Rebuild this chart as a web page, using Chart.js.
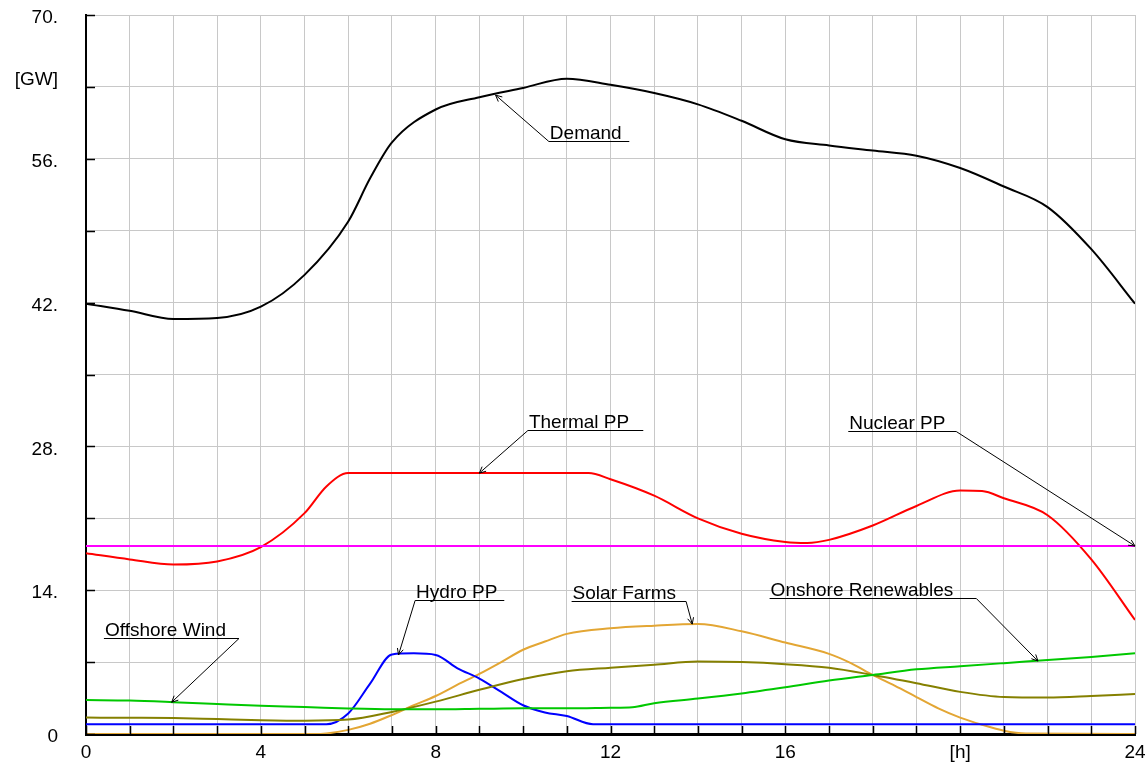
<!DOCTYPE html>
<html>
<head>
<meta charset="utf-8">
<script src="https://cdn.jsdelivr.net/npm/chart.js@4/dist/chart.umd.min.js"></script>
<style>
html,body{margin:0;padding:0;background:#fff;}
#wrap{width:1146px;height:762px;}
</style>
</head>
<body>
<div id="wrap"><canvas id="c" width="1146" height="762"></canvas></div>
<script>
// ---- Data (hours, GW) ----
const demandHours = [0,1,2,3,4,5,6,6.5,7,8,9,10,11,12,13,14,15,16,17,18,19,20,21,22,23,24];
const demandGW    = [41.9,41.2,40.4,40.5,41.6,44.7,49.9,54.1,57.6,60.8,62.0,62.9,63.8,63.2,62.4,61.3,59.7,57.9,57.3,56.8,56.3,55.1,53.3,51.3,47.2,41.9];

const thermalHours = [0,1,2,3,4,5,5.5,6,11.5,12,13,14,15,16,16.5,17,18,19,20,20.5,21,22,23,24];
const thermalGW    = [17.6,17.0,16.5,16.8,18.2,21.5,24.1,25.4,25.4,24.8,23.2,21.0,19.5,18.7,18.6,18.9,20.3,22.2,23.7,23.65,22.95,21.3,17.0,11.1];

const nuclearHours = [0,24];
const nuclearGW    = [18.3,18.3];

const hydroHours = [0,5.5,6,6.5,7,7.5,8,8.5,9,9.5,10,10.5,11,11.6,24];
const hydroGW    = [0.95,0.95,2.0,4.9,7.75,7.85,7.7,6.4,5.4,4.1,2.8,2.1,1.75,0.95,0.95];

const windHours = [0,1,2,3,4,5,6,7,8,9,10,11,12,12.5,13,14,15,16,17,18,19,20,21,22,23,24];
const windGW    = [3.3,3.25,3.1,2.92,2.75,2.63,2.48,2.4,2.4,2.45,2.5,2.5,2.55,2.6,3.0,3.45,3.95,4.55,5.2,5.75,6.3,6.6,6.9,7.2,7.5,7.85];

const oliveHours = [0,1,2,3,4,5,6,7,8,9,10,11,12,13,14,15,16,17,18,19,20,21,22,23,24];
const oliveGW    = [1.6,1.58,1.55,1.45,1.35,1.3,1.4,2.15,3.15,4.3,5.35,6.1,6.45,6.75,7.05,7.0,6.8,6.45,5.75,4.95,4.1,3.6,3.55,3.7,3.9];

const solarHours = [0,5.2,5.5,6,6.5,7,7.5,8,8.5,9,9.5,10,10.5,11,12,13,14,15,16,17,17.5,18,18.5,19,19.5,20,20.5,21,21.5,24];
const solarGW    = [0,0,0.05,0.4,1.0,1.85,2.8,3.7,4.8,5.85,7.0,8.2,9.0,9.75,10.3,10.55,10.7,10.0,8.9,7.8,6.9,5.75,4.7,3.6,2.5,1.6,0.9,0.32,0.05,0];

// ---- Tick labels ----
const yTickLabels = {0:'0',14:'14.',28:'28.',42:'42.',56:'56.',63:['[GW]',''],70:'70.'};
const xTickLabels = {0:'0',4:'4',8:'8',12:'12',16:'16',20:'[h]',24:'24'};

// ---- Annotation config (data coordinates) ----
const notes = [
  {text:'Demand',             ux1:10.59, ux2:12.43, uy:57.7,  side:'left',  tx:9.37,  ty:62.2},
  {text:'Thermal PP',         ux1:10.11, ux2:12.75, uy:29.6,  side:'left',  tx:9.0,   ty:25.4},
  {text:'Nuclear PP',         ux1:17.44, ux2:19.91, uy:29.5,  side:'right', tx:24.0,  ty:18.3},
  {text:'Onshore Renewables', ux1:15.64, ux2:20.37, uy:13.24, side:'right', tx:21.78, ty:7.1},
  {text:'Solar Farms',        ux1:11.11, ux2:13.73, uy:12.95, side:'right', tx:13.87, ty:10.7},
  {text:'Hydro PP',           ux1:7.53,  ux2:9.57,  uy:13.05, side:'left',  tx:7.15,  ty:7.7},
  {text:'Offshore Wind',      ux1:0.41,  ux2:3.5,   uy:9.35,  side:'right', tx:1.96,  ty:3.09}
];

const FONT = '"Liberation Sans", Arial, "DejaVu Sans", sans-serif';

function pts(hs, vs){ return hs.map((h,i)=>({x:h, y:vs[i]})); }

function ds(label, hs, vs, color, mode){
  return {
    label, data: pts(hs, vs), borderColor: color, backgroundColor: color,
    borderWidth: 2, pointRadius: 0, fill: false,
    cubicInterpolationMode: mode || 'monotone', tension: 0.4
  };
}

const insideTicks = {
  id: 'insideTicks',
  afterDatasetsDraw(chart){
    const {ctx, scales:{x, y}} = chart;
    ctx.save();
    ctx.strokeStyle = '#000';
    ctx.lineWidth = 1.5;
    ctx.beginPath();
    for (let v = 0; v <= 70; v += 7){
      const py = Math.round(y.getPixelForValue(v)) + 0.5;
      ctx.moveTo(x.left, py); ctx.lineTo(x.left + 9, py);
    }
    for (let h = 0; h <= 24; h += 1){
      const px = Math.round(x.getPixelForValue(h)) + 0.5;
      ctx.moveTo(px, y.bottom); ctx.lineTo(px, y.bottom - 8);
    }
    ctx.stroke();
    ctx.restore();
  }
};

const notesPlugin = {
  id: 'notes',
  afterDatasetsDraw(chart){
    const {ctx, scales:{x, y}} = chart;
    ctx.save();
    ctx.font = '19px ' + FONT;
    ctx.fillStyle = '#000';
    ctx.strokeStyle = '#000';
    ctx.lineWidth = 1;
    ctx.textBaseline = 'alphabetic';
    ctx.textAlign = 'left';
    notes.forEach(n => {
      const x1 = x.getPixelForValue(n.ux1), x2 = x.getPixelForValue(n.ux2);
      const uy = Math.round(y.getPixelForValue(n.uy)) + 0.5;
      const tx = x.getPixelForValue(n.tx), ty = y.getPixelForValue(n.ty);
      ctx.fillText(n.text, x1 + 1, uy - 3);
      ctx.beginPath();
      ctx.moveTo(x1, uy); ctx.lineTo(x2, uy);
      const sx = n.side === 'left' ? x1 : x2;
      ctx.moveTo(sx, uy); ctx.lineTo(tx, ty);
      const ang = Math.atan2(ty - uy, tx - sx);
      const L = 7, a = 0.45;
      ctx.moveTo(tx, ty); ctx.lineTo(tx - L*Math.cos(ang - a), ty - L*Math.sin(ang - a));
      ctx.moveTo(tx, ty); ctx.lineTo(tx - L*Math.cos(ang + a), ty - L*Math.sin(ang + a));
      ctx.stroke();
    });
    ctx.restore();
  }
};

new Chart(document.getElementById('c'), {
  type: 'line',
  data: {
    datasets: [
      ds('Nuclear PP', nuclearHours, nuclearGW, '#ff00ff', 'default'),
      ds('Offshore Wind', windHours, windGW, '#00c800'),
      ds('Onshore Renewables', oliveHours, oliveGW, '#858000'),
      ds('Hydro PP', hydroHours, hydroGW, '#0000ff'),
      ds('Solar Farms', solarHours, solarGW, '#e3a634'),
      ds('Thermal PP', thermalHours, thermalGW, '#ff0000'),
      ds('Demand', demandHours, demandGW, '#000000')
    ]
  },
  options: {
    responsive: false,
    animation: false,
    devicePixelRatio: 1,
    layout: { padding: { top: 15, right: 11, left: 0, bottom: 0 } },
    plugins: { legend: { display: false }, tooltip: { enabled: false } },
    scales: {
      x: {
        type: 'linear', min: 0, max: 24,
        afterFit(s){ s.height = 28; s.paddingLeft = 0; s.paddingRight = 0; },
        afterBuildTicks(s){ s.ticks = []; for (let h = 0; h <= 24; h++) s.ticks.push({value: h}); },
        ticks: {
          autoSkip: false, maxRotation: 0, padding: 7, color: '#000',
          font: { family: FONT, size: 19 },
          callback: v => (xTickLabels[v] !== undefined ? xTickLabels[v] : '')
        },
        grid: { color: '#c8c8c8', lineWidth: 1, drawTicks: false },
        border: { display: true, color: '#000', width: 3 }
      },
      y: {
        min: 0, max: 70,
        afterFit(s){ s.width = 86; s.paddingTop = 0; s.paddingBottom = 0; },
        afterBuildTicks(s){ s.ticks = []; for (let v = 0; v <= 70; v += 7) s.ticks.push({value: v}); },
        ticks: {
          autoSkip: false, padding: 28, color: '#000', labelOffset: 3,
          font: { family: FONT, size: 19, lineHeight: 1.05 },
          callback: v => (yTickLabels[v] !== undefined ? yTickLabels[v] : '')
        },
        grid: { color: '#c8c8c8', lineWidth: 1, drawTicks: false },
        border: { display: true, color: '#000', width: 2 }
      }
    }
  },
  plugins: [insideTicks, notesPlugin]
});
</script>
</body>
</html>
